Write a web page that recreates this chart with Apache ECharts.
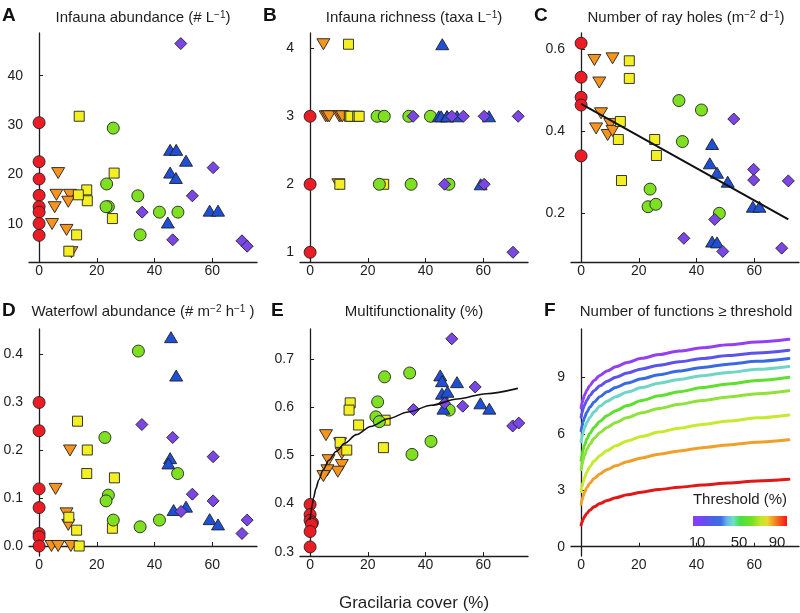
<!DOCTYPE html>
<html><head><meta charset="utf-8">
<script src="https://cdn.jsdelivr.net/npm/echarts@6/dist/echarts.min.js"></script>
<style>html,body{margin:0;padding:0;background:#fff}#c{width:800px;height:613px}</style>
</head><body><div id="c"></div>
<script>
// ---------- DATA ----------
const xTicks = [0, 20, 40, 60];
const yTicksA = [10, 20, 30, 40];
const yTicksB = [1, 2, 3, 4];
const yTicksC = [0.2, 0.4, 0.6];
const yTicksD = [0, 0.1, 0.2, 0.3, 0.4];
const yTicksE = [0.3, 0.4, 0.5, 0.6, 0.7];
const yTicksF = [0, 3, 6, 9];

// Panel A: Infauna abundance
const A_red = [[0,30.5],[0,22.6],[0,19.1],[0,15.8],[0,13.5],[0,12.4],[0,10.1],[0,7.7]];
const A_orange = [[6.6,20.3],[6.0,15.9],[10.7,15.9],[5.4,13.4],[10.1,14.5],[4.5,10.0],[9.5,8.8],[11.2,4.3]];
const A_yellow = [[13.9,31.8],[26.0,20.3],[16.5,16.9],[16.7,14.7],[13.6,15.9],[25.4,11.1],[13.0,7.8],[10.3,4.5]];
const A_green = [[25.7,29.4],[23.4,18.1],[24.0,13.5],[23.2,13.5],[34.2,15.7],[35.0,7.8],[41.7,12.4],[48.1,12.4]];
const A_blue = [[45.4,25.0],[47.5,25.0],[50.9,22.8],[45.4,20.4],[47.4,19.3],[44.6,10.3],[59.1,12.7],[62.0,12.7]];
const A_purple = [[49.1,46.5],[60.3,21.4],[53.1,15.7],[35.7,12.4],[46.3,6.8],[70.3,6.6],[72.1,5.5]];

// Panel B: Infauna richness
const B_red = [[0,3],[0,2],[0,1]];
const B_orange = [[4.6,4.06],[5.4,3],[6.0,3],[6.6,3],[10.1,3],[10.7,3],[11.2,3],[9.8,2]];
const B_yellow = [[13.3,4.06],[13.6,3],[14.1,3],[16.5,3],[17.0,3],[25.0,3],[10.3,2],[25.5,2]];
const B_green = [[23.2,3],[25.7,3],[34.2,3],[41.7,3],[24.0,2],[35.0,2],[48.1,2]];
const B_blue = [[45.8,4.06],[44.6,3],[45.4,3],[47.4,3],[47.5,3],[50.9,3],[62.0,3],[59.1,2]];
const B_purple = [[35.7,3],[49.1,3],[53.1,3],[60.3,3],[72.1,3],[46.6,2],[60.3,2],[70.3,1]];

// Panel C: Number of ray holes
const C_red = [[0,0.615],[0,0.532],[0,0.483],[0,0.464],[0,0.340]];
const C_orange = [[4.6,0.574],[10.9,0.578],[6.3,0.519],[6.9,0.444],[5.2,0.407],[10.1,0.418],[9.2,0.391],[10.9,0.401]];
const C_yellow = [[16.7,0.572],[16.7,0.529],[13.6,0.424],[12.9,0.380],[25.5,0.380],[26.1,0.341],[14.0,0.280]];
const C_green = [[33.9,0.475],[41.7,0.452],[35.1,0.375],[23.9,0.259],[23.2,0.216],[25.9,0.222],[47.9,0.200]];
const C_blue = [[45.4,0.369],[44.6,0.322],[47.1,0.299],[50.8,0.277],[59.5,0.216],[61.8,0.216],[45.4,0.131],[47.1,0.129]];
const C_purple = [[52.9,0.430],[59.8,0.307],[59.8,0.281],[71.8,0.279],[46.3,0.185],[35.6,0.139],[49.1,0.107],[69.5,0.115]];
const C_fit = [[0,0.467],[71.8,0.185]];

// Panel D: Waterfowl abundance
const D_red = [[0,0.299],[0,0.240],[0,0.119],[0,0.080],[0,0.026],[0,0.019],[0,0.0]];
const D_orange = [[10.7,0.199],[5.7,0.119],[9.5,0.068],[10.1,0.044],[4.3,0.0],[6.6,0.0],[11.0,0.0]];
const D_yellow = [[13.3,0.260],[16.7,0.200],[16.5,0.151],[26.1,0.142],[10.3,0.060],[13.0,0.033],[25.4,0.037],[13.9,0.0]];
const D_green = [[34.4,0.406],[22.8,0.226],[24.0,0.106],[23.2,0.094],[25.7,0.054],[35.0,0.040],[41.7,0.054],[48.0,0.151]];
const D_blue = [[45.7,0.435],[47.5,0.355],[45.4,0.183],[44.8,0.172],[46.6,0.075],[50.9,0.082],[59.1,0.056],[62.0,0.045]];
const D_purple = [[35.6,0.253],[46.3,0.226],[60.3,0.186],[53.1,0.108],[60.3,0.094],[49.2,0.072],[72.1,0.054],[70.3,0.026]];

// Panel E: Multifunctionality
const E_red = [[0,0.398],[0,0.377],[0,0.365],[0.8,0.360],[0.5,0.357],[0,0.342],[0,0.310]];
const E_orange = [[5.5,0.542],[6.4,0.490],[10.4,0.525],[11.0,0.504],[11.0,0.480],[9.6,0.466],[6.0,0.469],[4.6,0.457]];
const E_yellow = [[13.9,0.609],[13.5,0.594],[16.8,0.563],[10.4,0.527],[12.7,0.511],[26.0,0.573],[25.4,0.516]];
const E_green = [[25.8,0.663],[34.5,0.671],[23.4,0.611],[22.8,0.580],[24.0,0.570],[35.3,0.502],[41.9,0.529],[48.2,0.594]];
const E_blue = [[45.1,0.666],[45.7,0.654],[50.9,0.652],[45.7,0.628],[47.6,0.632],[46.2,0.597],[59.0,0.608],[62.1,0.597]];
const E_purple = [[49.1,0.742],[57.2,0.642],[35.8,0.595],[46.6,0.608],[52.9,0.602],[70.2,0.561],[72.3,0.567]];

// fitted curves (x positions shared by E and F curves)
const curveX = [0,0.3,0.7,1.2,2,3,4.5,6.5,9,12,16,21,27,34,42,51,61,72];
const E_fit = [0.366,0.381,0.397,0.412,0.431,0.449,0.470,0.490,0.508,0.525,0.543,0.560,0.576,0.590,0.604,0.617,0.628,0.639];

// Panel F: Number of functions >= threshold (threshold 10% .. 90%)
const F_t10 = [7.39,7.61,7.84,8.06,8.32,8.56,8.83,9.10,9.34,9.56,9.79,10.01,10.21,10.40,10.57,10.73,10.88,11.02];
const F_t20 = [6.88,7.10,7.32,7.53,7.79,8.03,8.29,8.55,8.79,9.01,9.23,9.45,9.65,9.83,10.00,10.16,10.30,10.44];
const F_t30 = [6.17,6.40,6.64,6.87,7.15,7.41,7.69,7.97,8.23,8.46,8.70,8.93,9.14,9.34,9.53,9.70,9.85,10.00];
const F_t40 = [5.58,5.82,6.08,6.32,6.60,6.87,7.17,7.46,7.73,7.97,8.22,8.46,8.69,8.89,9.09,9.26,9.43,9.58];
const F_t50 = [4.59,4.86,5.14,5.40,5.72,6.02,6.34,6.66,6.96,7.23,7.50,7.77,8.02,8.24,8.46,8.65,8.83,9.00];
const F_t60 = [4.09,4.35,4.61,4.86,5.17,5.45,5.76,6.06,6.34,6.60,6.86,7.12,7.35,7.57,7.77,7.96,8.13,8.29];
const F_t70 = [2.93,3.18,3.43,3.68,3.97,4.25,4.55,4.84,5.11,5.36,5.62,5.86,6.09,6.30,6.50,6.68,6.85,7.00];
const F_t80 = [2.26,2.47,2.68,2.89,3.14,3.37,3.62,3.87,4.10,4.30,4.52,4.72,4.92,5.09,5.26,5.41,5.55,5.68];
const F_t90 = [1.15,1.30,1.45,1.60,1.77,1.94,2.12,2.29,2.45,2.60,2.76,2.90,3.04,3.16,3.28,3.39,3.49,3.58];
const thresholdLabels = ['10', '50', '90'];

// ---------- STYLE ----------
const FONT = '"Liberation Sans", Arial, Helvetica, sans-serif';
const INK = '#1e1e1e';
const groupStyles = [
  {color:'#ec1c24', symbol:'circle', size:12, rotate:0},
  {color:'#f7941d', symbol:'triangle', size:[13,11], rotate:180},
  {color:'#f3ef23', symbol:'rect', size:10, rotate:0},
  {color:'#7fe022', symbol:'circle', size:12, rotate:0},
  {color:'#1f4fd6', symbol:'triangle', size:[13,11], rotate:0},
  {color:'#7b46e6', symbol:'diamond', size:12, rotate:0}
];
const fColors = ['#9440f2','#5c52ec','#3a6ae0','#6ed6c6','#5ee02e','#8ee23a','#c6ea30','#f0a02a','#e01818'];
const fCurves = [F_t10,F_t20,F_t30,F_t40,F_t50,F_t60,F_t70,F_t80,F_t90];

const panels = [
  [A_red,A_orange,A_yellow,A_green,A_blue,A_purple],
  [B_red,B_orange,B_yellow,B_green,B_blue,B_purple],
  [C_red,C_orange,C_yellow,C_green,C_blue,C_purple],
  [D_red,D_orange,D_yellow,D_green,D_blue,D_purple],
  [E_red,E_orange,E_yellow,E_green,E_blue,E_purple],
  null
];
const grids = [
  {left:29, top:33, width:228, height:229},
  {left:300, top:33, width:228, height:229},
  {left:571, top:33, width:228, height:229},
  {left:29, top:329, width:228, height:227},
  {left:300, top:329, width:228, height:227},
  {left:571, top:329, width:228, height:227}
];
const yRanges = [[2.31,48.64],[0.857,4.225],[0.0812,0.6398],[-0.0208,0.452],[0.2911,0.7623],[-0.494,11.57]];
const yTicks = [yTicksA,yTicksB,yTicksC,yTicksD,yTicksE,yTicksF];
const yFmt = [v=>String(v), v=>String(v), v=>v.toFixed(1), v=>v.toFixed(1), v=>v.toFixed(1), v=>String(v)];

const axisLine = {show:true, lineStyle:{color:INK, width:1.3}};
const xAxes = grids.map((g,i)=>({
  gridIndex:i, type:'value', min:-3.5, max:75.5,
  axisLine, splitLine:{show:false},
  axisTick:{show:true, inside:true, length:4, customValues:xTicks, lineStyle:{color:INK, width:1}},
  axisLabel:{customValues:xTicks, fontSize:14, color:INK, fontFamily:FONT, margin:2}
}));
const yAxes = grids.map((g,i)=>({
  gridIndex:i, type:'value', min:yRanges[i][0], max:yRanges[i][1],
  axisLine, splitLine:{show:false},
  axisTick:{show:true, inside:true, length:4, customValues:yTicks[i], lineStyle:{color:INK, width:1}},
  axisLabel:{customValues:yTicks[i], fontSize:14, color:INK, fontFamily:FONT, margin:6, formatter:yFmt[i]}
}));

const series = [];
panels.forEach((groups,p)=>{
  if (!groups) return;
  groups.forEach((data,g)=>{
    const st = groupStyles[g];
    series.push({type:'scatter', xAxisIndex:p, yAxisIndex:p, data,
      symbol:st.symbol, symbolSize:st.size, symbolRotate:st.rotate, silent:true, z:2,
      itemStyle:{color:st.color, borderColor:'#222', borderWidth:0.9, opacity:1}});
  });
});
series.push({type:'line', xAxisIndex:2, yAxisIndex:2, data:C_fit, showSymbol:false, silent:true, z:3,
  lineStyle:{color:'#111', width:2}});
series.push({type:'line', xAxisIndex:4, yAxisIndex:4, data:curveX.map((x,k)=>[x,E_fit[k]]), showSymbol:false,
  smooth:0.3, smoothMonotone:'x', silent:true, z:3, lineStyle:{color:'#111', width:1.6}});
fCurves.forEach((ys,k)=>{
  series.push({type:'line', xAxisIndex:5, yAxisIndex:5, data:curveX.map((x,j)=>[x,ys[j]]), showSymbol:false,
    smooth:0.3, smoothMonotone:'x', silent:true, z:3, lineStyle:{color:fColors[k], width:3, cap:'round'}});
});

const sup = {fontSize:10, verticalAlign:'top', fontFamily:FONT, fill:INK, lineHeight:16};
const base = {fontSize:15, fontFamily:FONT, fill:INK, lineHeight:16};
function title(text, x, y){
  return {type:'text', x, y, style:{text, ...base, align:'center', verticalAlign:'middle', rich:{sup, b:base}}};
}
function letter(t, x, y){
  return {type:'text', x, y, style:{text:t, fontSize:19, fontWeight:'bold', fontFamily:FONT, fill:'#111', verticalAlign:'middle'}};
}
const graphic = [
  letter('A', 2, 16), letter('B', 263, 16), letter('C', 534, 16),
  letter('D', 2, 311), letter('E', 271, 311), letter('F', 544, 311),
  title('{b|Infauna abundance (# L}{sup|−1}{b|)}', 143, 18),
  title('{b|Infauna richness (taxa L}{sup|−1}{b|)}', 414, 18),
  title('{b|Number of ray holes (m}{sup|−2}{b| d}{sup|−1}{b|)}', 686, 18),
  title('{b|Waterfowl abundance (# m}{sup|−2}{b| h}{sup|−1}{b| )}', 143, 312),
  title('{b|Multifunctionality (%)}', 414, 312),
  title('{b|Number of functions ≥ threshold}', 686, 312),
  {type:'text', x:740, y:500, style:{text:'Threshold (%)', fontSize:15, fontFamily:FONT, fill:INK, align:'center', verticalAlign:'middle'}},
  {type:'rect', shape:{x:693, y:516, width:94, height:10}, style:{fill:{type:'linear', x:0, y:0, x2:1, y2:0, colorStops:[
    {offset:0, color:'#8c3cff'},{offset:0.1, color:'#7048f4'},{offset:0.2, color:'#4a62e6'},{offset:0.3, color:'#3f6ee4'},
    {offset:0.36, color:'#68b4f0'},{offset:0.43, color:'#6ee0c4'},{offset:0.5, color:'#46e048'},{offset:0.62, color:'#72e020'},
    {offset:0.72, color:'#c0e828'},{offset:0.79, color:'#e8d830'},{offset:0.85, color:'#f49a26'},{offset:0.92, color:'#f45a1e'},{offset:1, color:'#ff1414'}]}}},
  {type:'text', x:697, y:543, style:{text:thresholdLabels[0], fontSize:15, fontFamily:FONT, fill:INK, align:'center', verticalAlign:'middle'}},
  {type:'text', x:739, y:543, style:{text:thresholdLabels[1], fontSize:15, fontFamily:FONT, fill:INK, align:'center', verticalAlign:'middle'}},
  {type:'text', x:777, y:543, style:{text:thresholdLabels[2], fontSize:15, fontFamily:FONT, fill:INK, align:'center', verticalAlign:'middle'}},
  {type:'text', x:414, y:603, style:{text:'Gracilaria cover (%)', fontSize:17, fontFamily:FONT, fill:INK, align:'center', verticalAlign:'middle'}}
];

const chart = echarts.init(document.getElementById('c'), null, {renderer:'canvas'});
chart.setOption({animation:false, backgroundColor:'#fff', grid:grids, xAxis:xAxes, yAxis:yAxes, series, graphic});
</script></body></html>
